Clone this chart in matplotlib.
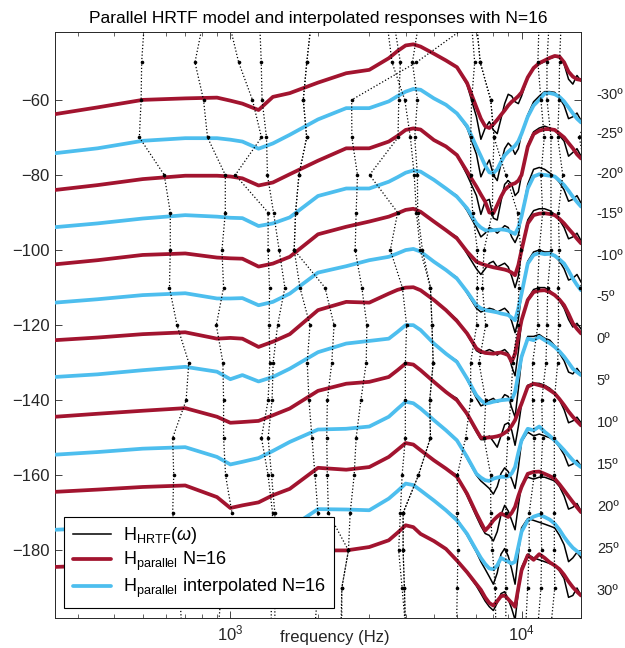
import numpy as np
import matplotlib
matplotlib.use('Agg')
import matplotlib.pyplot as plt
from matplotlib.ticker import LogLocator, NullFormatter

plt.rcParams['font.family'] = ['Liberation Sans', 'DejaVu Sans']
plt.rcParams['mathtext.fontset'] = 'custom'
plt.rcParams['mathtext.rm'] = 'Liberation Sans'
plt.rcParams['mathtext.it'] = 'Liberation Sans:italic'
plt.rcParams['mathtext.sf'] = 'Liberation Sans'

RED = (0.635, 0.078, 0.184)
BLUE = (0.301, 0.745, 0.933)

elevations = [-30, -25, -20, -15, -10, -5, 0, 5, 10, 15, 20, 25, 30]
label_db = [-58.7, -69.1, -79.7, -90.4, -101.6, -112.5, -123.7, -134.9, -146.1, -157.3, -168.5, -179.7, -190.7]

f_low = [250, 350, 500, 700, 900, 1000, 1100, 1250, 1400, 1600, 2000, 2500, 3000, 3500, 3750, 4000, 4250, 4500, 5000, 5500]
f_high = [6000, 6500, 7000, 7250, 7500, 7750, 8000, 8250, 8500, 8750, 9000, 9250, 9500, 9750, 10000,
          10500, 11000, 11500, 12000, 12500, 13000, 13500, 14000, 14500, 15000, 15500, 16000]

# parallel model (smooth), low band, one row per elevation (with 10 dB offsets)
model_low = [
    [-63.8, -62.0, -60.0, -59.6, -59.4, -60.2, -61.0, -62.7, -59.2, -58.2, -55.4, -52.9, -52.0, -48.9, -47.0, -45.5, -45.2, -45.8, -47.7, -49.5],
    [-74.2, -72.9, -70.9, -70.2, -70.2, -70.6, -71.1, -73.0, -71.6, -69.3, -65.2, -62.2, -62.2, -60.4, -59.0, -57.8, -57.1, -57.3, -59.6, -61.3],
    [-84.0, -82.7, -81.1, -80.2, -80.2, -80.4, -80.9, -82.8, -82.0, -79.8, -76.2, -72.9, -72.9, -71.1, -69.6, -68.0, -67.6, -67.9, -70.7, -72.4],
    [-93.9, -92.9, -91.6, -90.7, -91.1, -91.4, -91.5, -93.6, -92.9, -91.3, -85.6, -83.6, -83.6, -81.8, -80.6, -79.4, -78.8, -79.1, -81.3, -83.6],
    [-103.8, -102.7, -101.3, -100.9, -102.0, -102.2, -102.3, -104.4, -103.6, -101.8, -95.8, -93.8, -92.4, -91.1, -90.2, -89.3, -89.0, -89.8, -92.4, -94.7],
    [-114.0, -113.1, -112.0, -111.5, -112.9, -112.9, -112.8, -114.7, -113.8, -111.6, -106.0, -104.3, -102.7, -101.8, -100.9, -100.0, -99.7, -100.4, -103.1, -105.3],
    [-124.0, -123.3, -122.4, -121.9, -123.6, -123.4, -123.6, -125.8, -124.4, -122.4, -116.0, -113.8, -114.0, -111.6, -110.6, -110.0, -109.9, -110.7, -113.3, -116.0],
    [-133.8, -133.1, -132.0, -131.1, -132.4, -134.4, -133.3, -135.0, -133.8, -131.6, -127.2, -124.9, -124.2, -123.6, -121.8, -120.0, -120.0, -121.3, -124.9, -127.6],
    [-144.4, -143.6, -142.8, -142.1, -144.4, -146.0, -145.8, -145.5, -144.0, -142.2, -137.5, -135.6, -135.1, -133.8, -132.0, -130.2, -130.5, -132.0, -135.1, -137.8],
    [-154.5, -153.8, -152.9, -152.5, -155.1, -157.1, -156.4, -155.4, -153.5, -151.1, -147.8, -147.6, -147.0, -144.4, -142.3, -140.4, -140.8, -142.2, -145.3, -148.0],
    [-164.4, -163.8, -163.1, -162.7, -165.8, -168.7, -168.0, -167.2, -165.3, -163.6, -158.0, -158.5, -157.8, -155.1, -153.2, -151.4, -151.8, -153.3, -156.0, -158.2],
    [-174.5, -174.0, -173.3, -172.8, -175.5, -178.3, -178.0, -177.5, -176.0, -174.0, -169.0, -169.1, -169.3, -166.2, -164.2, -162.2, -162.6, -164.0, -166.7, -169.3],
    [-184.4, -184.0, -183.0, -182.5, -185.0, -187.3, -187.0, -186.5, -185.0, -183.0, -180.0, -180.0, -179.1, -177.3, -175.3, -173.3, -173.8, -175.6, -177.5, -179.6],
]

# parallel model (smooth), high band
model_high = [
    [-51.3, -55.5, -62.0, -65.0, -67.0, -67.5, -66.5, -65.3, -64.0, -62.8, -61.5, -60.5, -59.8, -59.0, -58.0, -54.0, -51.5, -50.2, -49.5, -48.8, -48.3, -48.5, -50.0, -52.5, -53.8, -54.5, -54.7],
    [-63.6, -67.0, -72.5, -75.0, -77.5, -79.3, -79.5, -78.5, -76.5, -74.8, -73.8, -73.0, -72.2, -71.0, -69.0, -64.5, -61.5, -60.0, -58.3, -58.2, -58.5, -59.2, -60.4, -62.0, -63.6, -65.0, -66.0],
    [-74.7, -79.1, -83.1, -85.2, -87.1, -90.0, -90.2, -88.0, -85.8, -84.0, -83.1, -82.5, -82.2, -81.5, -80.0, -72.5, -69.1, -68.2, -67.8, -67.8, -68.0, -69.0, -70.0, -71.5, -72.9, -74.5, -75.6],
    [-85.8, -88.9, -92.9, -94.0, -94.7, -94.8, -94.7, -94.6, -94.5, -94.6, -94.8, -95.3, -95.7, -94.0, -91.0, -83.6, -80.4, -79.8, -80.0, -80.2, -80.4, -81.5, -82.7, -84.2, -85.8, -87.2, -88.4],
    [-96.9, -100.4, -103.1, -103.6, -104.0, -104.3, -104.6, -104.8, -105.0, -105.2, -105.5, -106.0, -106.7, -104.0, -100.0, -92.9, -90.7, -90.3, -90.2, -90.4, -90.7, -91.7, -92.9, -94.3, -95.6, -97.0, -98.2],
    [-107.6, -111.1, -114.7, -115.5, -116.0, -116.2, -116.4, -116.6, -116.9, -117.1, -117.3, -118.0, -118.7, -115.5, -111.6, -103.6, -101.3, -100.8, -101.1, -101.0, -101.5, -102.5, -103.6, -105.5, -107.6, -109.3, -110.7],
    [-118.9, -122.2, -126.2, -127.0, -127.4, -127.5, -127.6, -127.4, -127.3, -127.6, -128.0, -129.8, -127.6, -123.0, -118.7, -113.3, -111.2, -110.8, -110.7, -111.2, -112.0, -113.2, -114.7, -117.0, -119.5, -121.0, -122.2],
    [-129.8, -134.2, -138.7, -140.0, -140.9, -140.7, -140.4, -140.2, -140.0, -139.9, -139.8, -139.9, -137.8, -133.0, -128.4, -123.6, -124.0, -123.1, -124.0, -124.8, -125.8, -127.0, -128.4, -130.0, -131.6, -132.5, -133.3],
    [-140.0, -143.6, -148.0, -150.0, -150.0, -149.9, -149.8, -149.6, -149.3, -148.7, -148.0, -146.8, -145.3, -143.0, -140.9, -136.4, -135.6, -136.0, -136.4, -137.3, -138.2, -139.7, -141.3, -143.0, -144.4, -145.6, -146.7],
    [-150.7, -155.1, -159.6, -160.6, -161.3, -161.5, -160.9, -160.6, -160.4, -160.4, -160.3, -159.5, -157.8, -154.0, -150.7, -147.6, -148.0, -147.0, -148.4, -149.5, -150.7, -152.0, -153.3, -154.7, -156.0, -157.0, -157.8],
    [-160.4, -164.9, -170.2, -172.5, -174.7, -173.5, -172.0, -171.0, -170.2, -170.6, -171.1, -170.0, -168.4, -165.5, -163.1, -159.6, -159.1, -159.0, -159.6, -160.2, -160.9, -162.4, -164.0, -165.6, -167.1, -168.5, -169.8],
    [-172.0, -175.6, -180.0, -182.0, -183.6, -184.8, -185.0, -184.0, -182.0, -182.5, -183.0, -183.5, -183.0, -179.0, -175.0, -172.0, -171.0, -170.5, -171.1, -171.8, -172.9, -174.5, -176.4, -178.0, -179.3, -180.2, -181.0],
    [-182.7, -185.8, -189.0, -190.5, -192.5, -194.0, -194.7, -193.5, -192.2, -192.0, -193.0, -194.0, -195.0, -190.0, -185.3, -181.3, -182.5, -181.0, -182.0, -183.2, -184.0, -185.0, -186.5, -188.3, -189.8, -191.0, -192.0],
]

# measured HRTF, high band (low band follows the model)
hrtf_high = [
    [-51.3, -56.0, -64.5, -70.5, -67.5, -65.8, -68.0, -69.0, -65.0, -61.0, -58.5, -59.0, -60.5, -61.0, -59.0, -54.0, -51.5, -50.5, -49.8, -49.0, -48.5, -48.8, -50.5, -54.5, -55.8, -53.5, -55.0],
    [-63.6, -67.5, -74.5, -80.5, -78.0, -76.0, -80.0, -81.5, -77.0, -73.0, -71.5, -72.5, -74.5, -73.0, -69.0, -64.0, -60.5, -59.0, -57.8, -57.8, -58.0, -59.5, -61.5, -65.0, -64.5, -63.5, -65.5],
    [-74.7, -80.0, -85.5, -90.5, -87.0, -86.5, -91.5, -92.0, -87.0, -82.5, -81.5, -82.5, -85.5, -84.5, -80.0, -72.0, -68.5, -67.5, -67.0, -67.5, -68.0, -69.5, -71.0, -75.0, -74.0, -73.0, -75.0],
    [-85.5, -89.5, -94.0, -96.5, -95.5, -94.0, -94.5, -95.5, -94.5, -93.5, -94.0, -96.5, -98.0, -96.0, -91.0, -82.5, -78.5, -78.0, -78.5, -79.5, -80.5, -82.0, -84.0, -87.0, -86.5, -85.5, -87.5],
    [-96.5, -101.0, -105.0, -106.5, -105.0, -103.5, -103.0, -104.5, -104.0, -103.5, -104.5, -107.0, -110.0, -107.0, -100.0, -92.0, -89.5, -89.0, -89.0, -89.5, -90.5, -92.0, -94.0, -97.0, -96.5, -95.5, -97.5],
    [-107.3, -111.5, -115.5, -116.5, -116.0, -115.5, -115.8, -116.5, -116.0, -115.5, -116.5, -119.0, -122.0, -118.5, -111.5, -103.0, -100.5, -100.0, -100.5, -100.5, -101.5, -103.0, -105.0, -108.0, -107.5, -106.5, -108.5],
    [-118.5, -122.5, -126.8, -127.5, -127.0, -126.5, -127.0, -128.0, -127.0, -126.5, -127.5, -131.0, -133.5, -127.0, -119.0, -113.0, -110.5, -110.0, -110.0, -110.8, -112.0, -113.5, -115.5, -118.5, -120.5, -119.5, -121.0],
    [-129.5, -134.5, -139.5, -141.5, -141.0, -140.0, -139.5, -140.5, -140.0, -138.5, -139.0, -142.0, -144.5, -137.0, -129.0, -123.0, -123.0, -122.5, -123.5, -124.0, -125.5, -127.5, -129.5, -132.5, -133.0, -131.5, -133.0],
    [-139.5, -144.0, -148.5, -150.5, -150.5, -149.5, -151.0, -152.5, -149.5, -146.5, -146.0, -148.0, -152.0, -147.0, -141.0, -136.0, -135.5, -135.5, -136.0, -136.8, -138.0, -140.0, -142.5, -146.0, -145.5, -144.5, -146.0],
    [-150.5, -155.5, -160.0, -161.5, -162.5, -163.5, -165.0, -163.0, -159.5, -158.0, -159.0, -161.0, -163.5, -158.0, -151.0, -148.5, -149.5, -149.0, -149.5, -150.0, -150.8, -152.5, -154.5, -157.5, -157.0, -156.0, -157.5],
    [-160.0, -165.5, -171.0, -173.5, -175.5, -176.0, -177.5, -175.0, -170.5, -168.0, -169.5, -172.0, -174.5, -168.0, -162.5, -160.5, -161.0, -160.5, -160.5, -161.0, -161.5, -163.0, -165.5, -169.0, -168.5, -167.5, -169.5],
    [-171.5, -176.0, -180.5, -183.0, -185.0, -187.0, -189.0, -186.0, -181.0, -179.5, -181.5, -185.0, -189.0, -181.0, -174.0, -171.5, -172.0, -172.5, -173.0, -173.5, -174.0, -176.0, -178.5, -183.0, -182.0, -180.5, -182.0],
    [-182.5, -186.0, -189.5, -191.5, -193.5, -195.0, -196.0, -194.0, -191.5, -191.0, -193.0, -195.5, -198.5, -191.0, -184.5, -181.0, -182.0, -182.5, -183.0, -183.5, -184.0, -185.5, -187.5, -192.5, -192.0, -190.0, -192.0],
]

# pole frequency tracks (Hz) at each dotted row level (dB)
dot_levels = [-40, -50, -60, -70, -80, -90, -100, -110, -120, -130, -140, -150, -160, -170, -180, -190, -200]
pole_tracks = [
    [506, 496, 494, 487, 593, 622, 622, 618, 656, 720, 705, 634, 639, 634, 653, 669, 680],
    [803, 756, 809, 835, 961, 961, 936, 948, 895, 943, 948, 948, 963, 1013, 979, 933, 911],
    [994, 1068, 1191, 1279, 1040, 1348, 1348, 1363, 1359, 1366, 1348, 1279, 1348, 1396, 1388, 1382, 1382],
    [1262, 1277, 1285, 1331, 1341, 1407, 1471, 1539, 1453, 1403, 1391, 1348, 1385, 1422, 1422, 1422, 1422],
    [1892, 1830, 1780, 1829, 1720, 1675, 1657, 1734, 1877, 1837, 1862, 1907, 1953, 2000, 2032, 2000, 1953],
    [1892, 1830, 1780, 1829, 1720, 1675, 1657, 2114, 2271, 2230, 2153, 2143, 2153, 2171, 2544, 2414, 2414],
    [6581, 4355, 2610, 2614, 2733, 2704, 2683, 2829, 2944, 2928, 2807, 2704, 2662, 2579, 2544, 2414, 2400],
    [3657, 3836, 3787, 3766, 3006, 3754, 3543, 3898, 4030, 3990, 3990, 3990, 3889, 3836, 3784, 3889, 3990],
    [3459, 3591, 3972, 4152, 4280, 4355, 4490, 4866, 4925, 4972, 4839, 4866, 4424, 3920, 3920, 3960, 3990],
    [4424, 4219, 4389, 4297, 4389, 4399, 4567, 4866, 4925, 4972, 4839, 4866, 4424, 3920, 3920, 3960, 3990],
    [6740, 6902, 6740, 6687, 6687, 6794, 7052, 7052, 7013, 6687, 6687, 6426, 6016, 6016, 6045, 6016, 5983],
    [7013, 7211, 7837, 8045, 7962, 7943, 7430, 7338, 7531, 7142, 7531, 7430, 7837, 7837, 7943, 8123, 8155],
    [7013, 7211, 7837, 8045, 8831, 9688, 9945, 9788, 9688, 9334, 9187, 8972, 8831, 8831, 8831, 8831, 8831],
    [11473, 11381, 11656, 11965, 11656, 11814, 11500, 11355, 11381, 10911, 10911, 11050, 11050, 10622, 10622, 10488, 10346],
    [12421, 12226, 12226, 12621, 12621, 12621, 12621, 12296, 12226, 12129, 11730, 11814, 11656, 11656, 11722, 11656, 11381],
    [13665, 13502, 13450, 13311, 13852, 13375, 13483, 13375, 13397, 13311, 12957, 12957, 12957, 12957, 12957, 12999, 12621],
    [18767, 18040, 17338, 15796, 16661, 17338, 17338, 15923, 17338, 18767, 18767, 18767, 18767, 18767, 18767, 18767, 18767],
]

fig = plt.figure(figsize=(6.25, 6.48), dpi=100)
ax = fig.add_axes([55 / 625, 1 - 618 / 648, 526 / 625, 585.7 / 648])

freqs = f_low + f_high
h_black = h_red = h_blue = None
for i, el in enumerate(elevations):
    hb, = ax.plot(freqs, model_low[i] + hrtf_high[i], color='k', lw=1.1, zorder=2,
                  solid_joinstyle='round')
    col = RED if i % 2 == 0 else BLUE
    hc, = ax.plot(freqs, model_low[i] + model_high[i], color=col, lw=2.7, zorder=3,
                  solid_joinstyle='round', solid_capstyle='round')
    h_black = hb
    if i % 2 == 0:
        h_red = hc
    else:
        h_blue = hc

# pole tracks go on top of the responses
for tr in pole_tracks:
    ax.plot(tr, dot_levels, ':', color='k', lw=0.9, marker='o', ms=2.6, mew=0, zorder=4)

ax.set_xscale('log')
ax.set_xlim(250, 16000)
ax.set_ylim(-198, -42)
ax.set_yticks([-180, -160, -140, -120, -100, -80, -60])
ax.xaxis.set_major_locator(LogLocator(base=10))
ax.xaxis.set_minor_locator(LogLocator(base=10, subs=np.arange(2, 10)))
ax.xaxis.set_minor_formatter(NullFormatter())
ax.tick_params(which='both', direction='in', top=True, right=True, labelsize=12,
               color='#262626', labelcolor='#262626')
ax.tick_params(which='major', length=5, width=0.6, pad=4)
ax.tick_params(which='minor', length=3, width=0.5)
for s in ax.spines.values():
    s.set_color('#262626')
    s.set_linewidth(0.7)

ax.set_title('Parallel HRTF model and interpolated responses with N=16', fontsize=12.5, pad=7)
ax.text(0.532, -0.033, 'frequency (Hz)', transform=ax.transAxes, ha='center', va='center',
        fontsize=12, color='#262626')

for el, yd in zip(elevations, label_db):
    ax.text(1.03, yd, f'{el}\u00ba', transform=ax.get_yaxis_transform(), ha='left', va='center',
            fontsize=10.5, color='#262626')

leg = ax.legend([h_black, h_red, h_blue],
                [r'H$_{\mathrm{HRTF}}$($\omega$)', r'H$_{\mathrm{parallel}}$ N=16',
                 r'H$_{\mathrm{parallel}}$ interpolated N=16'],
                loc='lower left', bbox_to_anchor=(0.018, 0.017), borderaxespad=0,
                fancybox=False, edgecolor='k', framealpha=1, fontsize=13,
                handlelength=2.1, labelspacing=0.2, borderpad=0.45, handletextpad=0.7)
leg.set_zorder(10)
leg.get_frame().set_linewidth(0.8)

fig.savefig('out.png', dpi=100)
